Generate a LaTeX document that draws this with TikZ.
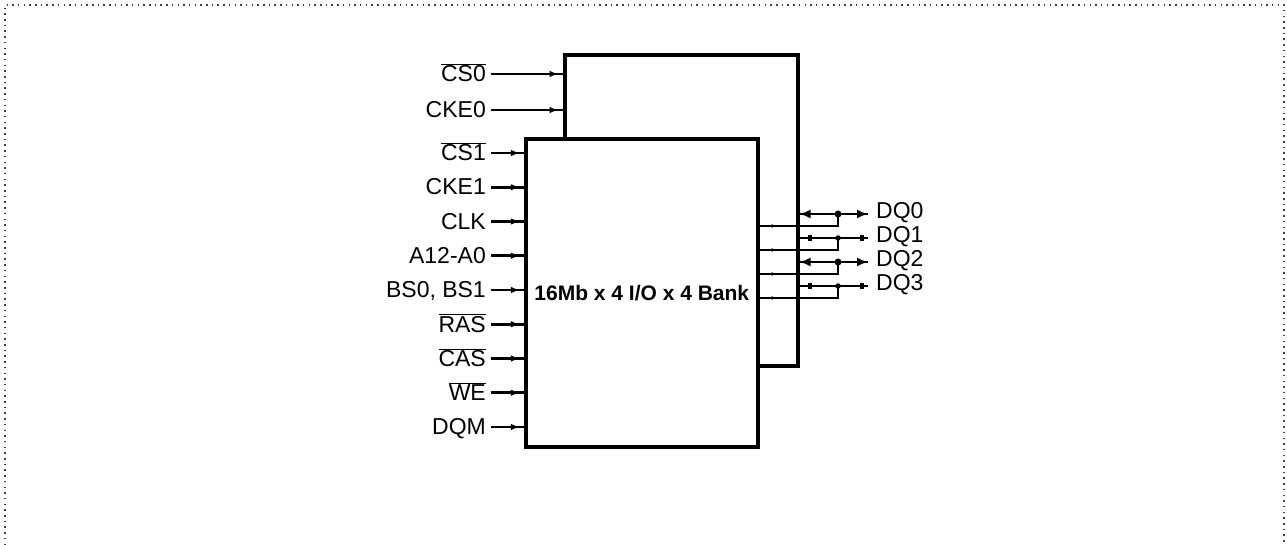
\documentclass[tikz,border=0pt]{standalone}
\usepackage{fontspec}
\setmainfont{Liberation Sans}
\usetikzlibrary{arrows.meta,decorations.markings}
\begin{document}
\begin{tikzpicture}[x=1pt,y=-1pt,
  chip/.style={draw,line width=4pt,rectangle,inner sep=0pt},
  lab/.style={inner sep=0pt,anchor=east,text height=15.5pt,text depth=0pt,font=\fontsize{23}{26}\selectfont},
  dqlab/.style={inner sep=0pt,anchor=west,text height=15.5pt,text depth=0pt,font=\fontsize{23}{26}\selectfont},
  inarr/.style={line width=2.6pt,postaction={decorate},
    decoration={markings,mark=at position -4pt with {\arrow{Latex[length=9pt,width=6.5pt]}}}},
  bigbi/.style={line width=2.8pt,{Latex[length=11pt,width=9pt]}-{Latex[length=11pt,width=9pt]}},
  smallbi/.style={line width=2.8pt,{Square[length=4.5pt,width=6pt]}-{Square[length=4.5pt,width=6pt]},shorten <=8pt,shorten >=4pt},
  dqline/.style={line width=2.8pt},
  tinymark/.style={line width=2.8pt,postaction={decorate},
    decoration={markings,mark=at position -9pt with {\arrow{Latex[length=4pt,width=4pt]}}}},
  jdot/.style={circle,fill,inner sep=0pt,minimum size=#1},
  frame/.style={line width=1.2pt,black!75,dash pattern=on 1.5pt off 4.2pt}
]
\useasboundingbox (0,0) rectangle (1287,545);
\draw[frame] (5,545) -- (5,5) -- (1284,5) -- (1284,545);

% chips
\node[chip,minimum width=232.8pt,minimum height=310.2pt] (back) at (681.1,210.4) {};
\node[chip,fill=white,minimum width=231.7pt,minimum height=308.3pt,
  font=\bfseries\fontsize{21}{24}\selectfont] (front) at (641.8,292.8) {16Mb x 4 I/O x 4 Bank};

% inputs to back chip
\node[lab] (cs0) at (486,74) {$\overline{\hbox{CS0}}$};
\node[lab] (cke0) at (486,110) {CKE0};
\draw[inarr] ([xshift=5pt]cs0.east) -- (cs0.east -| back.west);
\draw[inarr] ([xshift=5pt]cke0.east) -- (cke0.east -| back.west);

% inputs to front chip
\foreach \n/\t [count=\k from 0] in {cs1/{$\overline{\hbox{CS1}}$},cke1/CKE1,clk/CLK,addr/A12-A0,bs/{BS0, BS1},ras/{$\overline{\hbox{RAS}}$},cas/{$\overline{\hbox{CAS}}$},we/{$\overline{\hbox{WE}}$},dqm/DQM}{
  \node[lab] (\n) at (486,153+34.25*\k) {\t};
  \draw[inarr] ([xshift=5pt]\n.east) -- (\n.east -| front.west);
}

% DQ outputs
\foreach \i/\yd/\yf/\st/\ds in {0/214/226/bigbi/7pt,1/238/250/smallbi/5.5pt,2/262/274/bigbi/7pt,3/286/298/smallbi/5.5pt}{
  \node[dqlab] (dq\i) at (876,\yd-3) {DQ\i};
  \coordinate (b\i) at (back.east |- 0,\yd);
  \coordinate (e\i) at (868,\yd);
  \coordinate (j\i) at (838,\yd);
  \coordinate (h\i) at (838,\yf);
  \draw[dqline] (b\i) -- (e\i);
  \draw[\st] (b\i) -- (e\i);
  \draw[tinymark] (j\i) -- (h\i) -- (h\i -| front.east);
  \node[jdot=\ds] at (j\i) {};
}
\end{tikzpicture}
\end{document}
